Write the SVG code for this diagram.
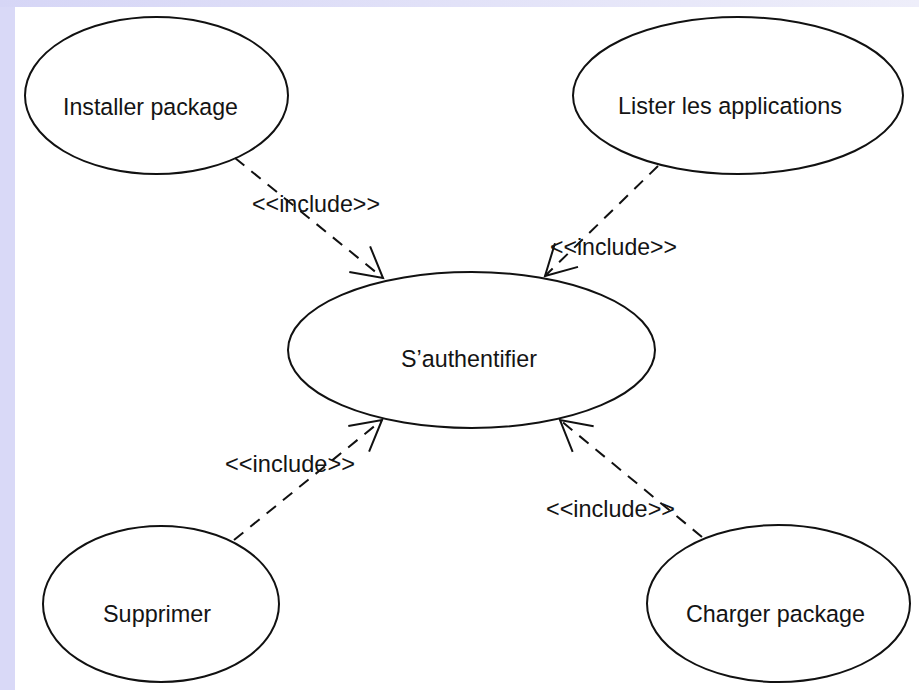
<svg xmlns="http://www.w3.org/2000/svg" width="919" height="690" viewBox="0 0 919 690">
  <defs>
    <linearGradient id="topband" x1="0" y1="0" x2="1" y2="0">
      <stop offset="0" stop-color="#d6d6f6"/>
      <stop offset="1" stop-color="#eeeefa"/>
    </linearGradient>
    <marker id="open" markerUnits="userSpaceOnUse" markerWidth="40" markerHeight="40" viewBox="-36 -20 40 40" refX="0" refY="0" orient="auto">
      <path d="M -30,-16.5 L 0,0 L -30,16.5" fill="none" stroke="#111" stroke-width="2"/>
    </marker>
  </defs>
  <style>
    .uc { fill: #ffffff; stroke: #111; stroke-width: 2; }
    .lbl { font-family: "Liberation Sans", Arial, sans-serif; font-size: 24.5px; fill: #141414; }
    .dep { fill: none; stroke: #111; stroke-width: 2; stroke-dasharray: 12 9; marker-end: url(#open); }
  </style>
  <rect x="0" y="0" width="919" height="690" fill="#d9d9f7"/>
  <rect x="0" y="0" width="919" height="7" fill="url(#topband)"/>
  <rect x="15" y="7" width="904" height="683" fill="#ffffff"/>

  <g id="installer">
    <ellipse class="uc" cx="156.5" cy="95.5" rx="131.5" ry="78.5"/>
    <text class="lbl" x="63" y="115" textLength="175" lengthAdjust="spacingAndGlyphs">Installer package</text>
  </g>
  <g id="lister">
    <ellipse class="uc" cx="738" cy="95.5" rx="165" ry="78.5"/>
    <text class="lbl" x="618" y="114" textLength="224" lengthAdjust="spacingAndGlyphs">Lister les applications</text>
  </g>
  <g id="auth">
    <ellipse class="uc" cx="471.5" cy="350" rx="183.5" ry="78"/>
    <text class="lbl" x="401" y="367" textLength="136" lengthAdjust="spacingAndGlyphs">S’authentifier</text>
  </g>
  <g id="supprimer">
    <ellipse class="uc" cx="161" cy="604" rx="118" ry="78"/>
    <text class="lbl" x="103" y="622" textLength="108" lengthAdjust="spacingAndGlyphs">Supprimer</text>
  </g>
  <g id="charger">
    <ellipse class="uc" cx="778.5" cy="603.5" rx="131.5" ry="78.5"/>
    <text class="lbl" x="686" y="622" textLength="179" lengthAdjust="spacingAndGlyphs">Charger package</text>
  </g>

  <g id="connectors">
    <line class="dep" x1="235" y1="158" x2="383" y2="278"/>
    <line class="dep" x1="658" y1="166" x2="545" y2="276"/>
    <line class="dep" x1="234" y1="540" x2="382" y2="420"/>
    <line class="dep" x1="702" y1="537" x2="560" y2="420"/>
    <text class="lbl" x="252" y="212" textLength="128" lengthAdjust="spacingAndGlyphs">&lt;&lt;include&gt;&gt;</text>
    <text class="lbl" x="550" y="255" textLength="127" lengthAdjust="spacingAndGlyphs">&lt;&lt;include&gt;&gt;</text>
    <text class="lbl" x="225" y="472" textLength="130" lengthAdjust="spacingAndGlyphs">&lt;&lt;include&gt;&gt;</text>
    <text class="lbl" x="546" y="517" textLength="129" lengthAdjust="spacingAndGlyphs">&lt;&lt;include&gt;&gt;</text>
  </g>
</svg>
